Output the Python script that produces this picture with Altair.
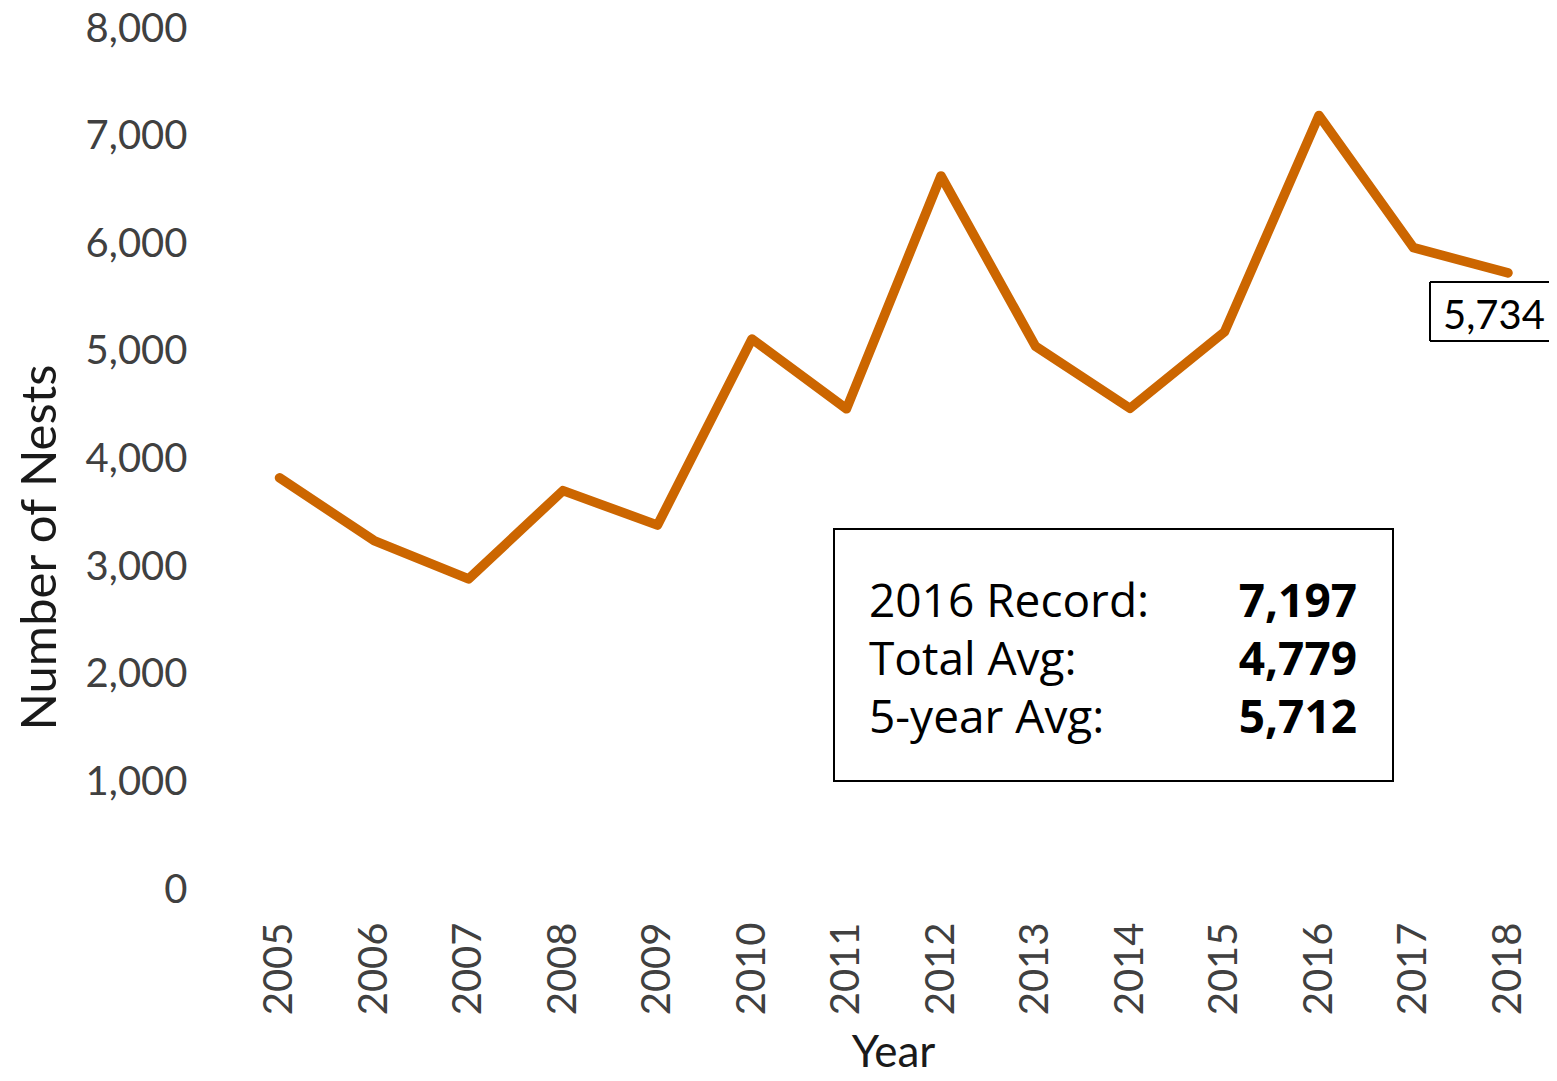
import altair as alt
import pandas as pd

# ---- data ----
years = ["2005", "2006", "2007", "2008", "2009", "2010", "2011",
         "2012", "2013", "2014", "2015", "2016", "2017", "2018"]
nests = [3830, 3247, 2890, 3711, 3390, 5120, 4471,
         6635, 5052, 4475, 5186, 7197, 5968, 5734]
y_ticks = [0, 1000, 2000, 3000, 4000, 5000, 6000, 7000, 8000]
last_label = ["", "", "", "", "", "", "", "", "", "", "", "", "", "5,734"]
stat_labels = ["2016 Record:", "Total Avg:", "5-year Avg:"]
stat_values = ["7,197", "4,779", "5,712"]

df = pd.DataFrame({"Year": years, "Nests": nests, "Label": last_label})
one = pd.DataFrame({"k": [0]})

LINE_COLOR = "#CC6600"
TICK_COLOR = "#404040"
TITLE_COLOR = "#1a1a1a"

PLOT_W = 1317
PLOT_H = 861

x_enc = alt.X(
    "Year:O",
    scale=alt.Scale(type="point", padding=0, range=[47.5, 1276]),
    axis=alt.Axis(
        title="Year",
        labelAngle=270,
        labelFont="Lato",
        labelFontSize=40,
        labelColor=TICK_COLOR,
        labelPadding=32,
        ticks=False,
        tickSize=0,
        domain=False,
        grid=False,
        titleFont="Lato",
        titleFontSize=44,
        titleFontWeight="normal",
        titleColor=TITLE_COLOR,
        titleBaseline="alphabetic",
        titleX=661,
        titleY=176,
    ),
)

y_enc = alt.Y(
    "Nests:Q",
    scale=alt.Scale(domain=[0, 8000], nice=False),
    axis=alt.Axis(
        title="Number of Nests",
        values=y_ticks,
        format=",.0f",
        labelFont="Lato",
        labelFontSize=40,
        labelColor=TICK_COLOR,
        labelPadding=45,
        ticks=False,
        tickSize=0,
        domain=False,
        grid=False,
        titleFont="Lato",
        titleFontSize=49,
        titleFontWeight="normal",
        titleColor=TITLE_COLOR,
        titleBaseline="alphabetic",
        titleX=-177,
        titleY=518,
    ),
)

base = alt.Chart(df)

line = base.mark_line(
    color=LINE_COLOR, strokeWidth=9.5, strokeCap="round", strokeJoin="round"
).encode(x=x_enc, y=y_enc)

# open-ended box around the last value (its right side runs off the picture)
box_edges = [
    alt.Chart(one).mark_rule(color="black", strokeWidth=2).encode(
        x=alt.value(1198), x2=alt.value(PLOT_W), y=alt.value(253)),
    alt.Chart(one).mark_rule(color="black", strokeWidth=2).encode(
        x=alt.value(1198), x2=alt.value(PLOT_W), y=alt.value(312)),
    alt.Chart(one).mark_rule(color="black", strokeWidth=2).encode(
        x=alt.value(1198), y=alt.value(253), y2=alt.value(312)),
]

last_text = base.transform_filter(alt.datum.Label != "").mark_text(
    font="Lato", fontSize=40, color="black", align="center",
    baseline="alphabetic", dx=-14, dy=56
).encode(x=x_enc, y=y_enc, text="Label:N")

stat_box = alt.Chart(one).mark_rect(
    fill="white", stroke="black", strokeWidth=2
).encode(
    x=alt.value(602), x2=alt.value(1161), y=alt.value(500), y2=alt.value(752)
)

stat_layers = []
baselines = [588, 646, 704]
for lab, val, yb in zip(stat_labels, stat_values, baselines):
    stat_layers.append(
        alt.Chart(one).mark_text(
            text=lab, font="Open Sans", fontSize=46, color="black",
            align="left", baseline="alphabetic"
        ).encode(x=alt.value(637), y=alt.value(yb))
    )
    stat_layers.append(
        alt.Chart(one).mark_text(
            text=val, font="Open Sans", fontSize=46, fontWeight="bold",
            color="black", align="right", baseline="alphabetic"
        ).encode(x=alt.value(1125), y=alt.value(yb))
    )

chart = alt.layer(
    stat_box, *stat_layers, line, *box_edges, last_text
).properties(
    width=PLOT_W,
    height=PLOT_H,
    padding={"left": 224, "top": 21, "right": 0, "bottom": 183},
    autosize=alt.AutoSizeParams(type="none"),
).configure(background="white").configure_view(stroke="transparent", strokeWidth=0)

chart.save("out.html", embed_options={"renderer": "svg", "actions": False})
